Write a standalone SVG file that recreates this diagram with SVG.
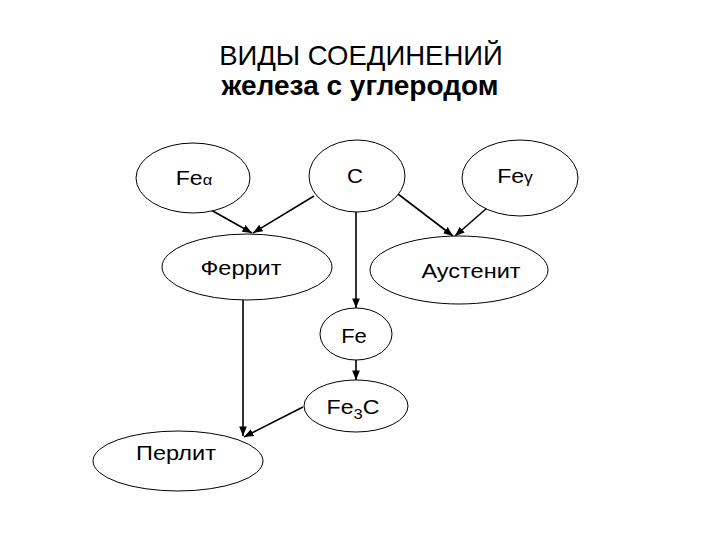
<svg xmlns="http://www.w3.org/2000/svg" width="720" height="540" viewBox="0 0 720 540">
<style>
.n{fill:#fff;stroke:#000;stroke-width:1}
.t{font-family:"Liberation Sans",Arial,sans-serif;font-size:21px;fill:#000;text-anchor:middle}
.c{stroke:#000;stroke-width:1.6;fill:none;marker-end:url(#ah)}
.h{font-family:"Liberation Sans",Arial,sans-serif;fill:#000;text-anchor:middle}
</style>
<defs>
<marker id="ah" viewBox="0 0 10 10" refX="10" refY="5" markerWidth="6" markerHeight="6" markerUnits="strokeWidth" orient="auto">
<path d="M0,1 L10,5 L0,9 z" fill="#000"/>
</marker>
</defs>
<rect width="720" height="540" fill="#fff"/>
<text class="h" x="361" y="65" font-size="27.5">ВИДЫ СОЕДИНЕНИЙ</text>
<text class="h" x="360" y="95" font-size="28" font-weight="bold">железа с углеродом</text>
<g id="connectors">
<line class="c" x1="211" y1="210" x2="252" y2="233"/>
<line class="c" x1="314" y1="196" x2="253" y2="233"/>
<line class="c" x1="398" y1="194" x2="453" y2="236"/>
<line class="c" x1="487" y1="208" x2="455" y2="236"/>
<line class="c" x1="356" y1="212" x2="356" y2="308"/>
<line class="c" x1="356" y1="360" x2="356" y2="380"/>
<line class="c" x1="243" y1="300" x2="243" y2="436"/>
<line class="c" x1="303" y1="407" x2="244" y2="437"/>
</g>
<g id="fe-alpha"><ellipse class="n" cx="193" cy="178" rx="57" ry="35"/><text class="t" transform="translate(194,185) scale(1.1,1)">Fe<tspan font-size="15">α</tspan></text></g>
<g id="carbon"><ellipse class="n" cx="357" cy="176" rx="48" ry="36"/><text class="t" transform="translate(355,183) scale(1.05,1)">C</text></g>
<g id="fe-gamma"><ellipse class="n" cx="520" cy="178" rx="58" ry="38"/><text class="t" transform="translate(515,183) scale(1.1,1)">Fe<tspan font-size="16">γ</tspan></text></g>
<g id="ferrit"><ellipse class="n" cx="247" cy="267" rx="85" ry="33"/><text class="t" transform="translate(241,275) scale(1.12,1)">Феррит</text></g>
<g id="austenit"><ellipse class="n" cx="459" cy="270" rx="89" ry="34"/><text class="t" transform="translate(471,278) scale(1.12,1)">Аустенит</text></g>
<g id="fe"><ellipse class="n" cx="356" cy="334" rx="36" ry="26"/><text class="t" transform="translate(354,343) scale(1.05,1)">Fe</text></g>
<g id="fe3c"><ellipse class="n" cx="356" cy="406" rx="52" ry="26"/><text class="t" transform="translate(353,414) scale(1.1,1)">Fe<tspan font-size="15" dy="5">3</tspan><tspan dy="-5">C</tspan></text></g>
<g id="perlit"><ellipse class="n" cx="178" cy="461" rx="85" ry="30"/><text class="t" transform="translate(176,460) scale(1.12,1)">Перлит</text></g>
</svg>
